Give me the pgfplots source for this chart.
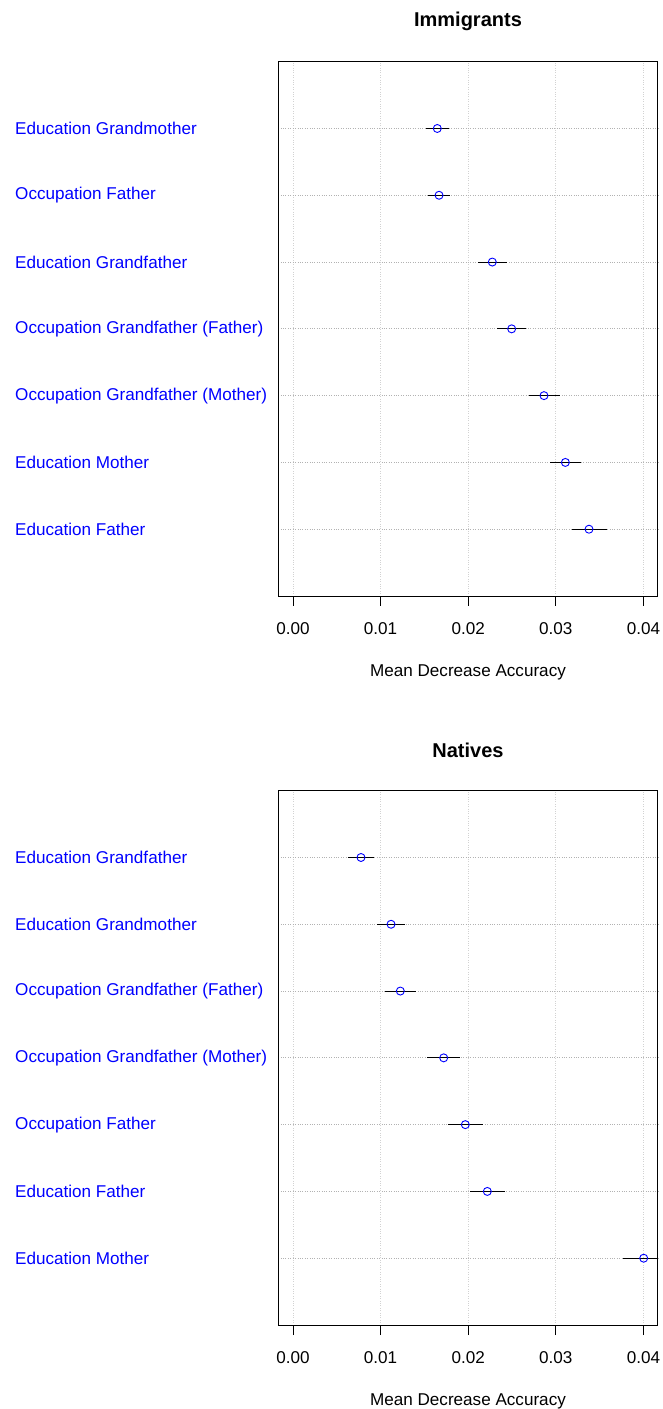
\documentclass[border=0pt]{standalone}
\usepackage{fontspec}
\setmainfont{Liberation Sans}
\usepackage{pgfplots}
\pgfplotsset{compat=1.18}
\usepackage{pgfplotstable}

\pgfplotstableread{
y m em ep
7 0.01647 0.00132 0.00134
6 0.01667 0.00130 0.00125
5 0.02275 0.00163 0.00164
4 0.02496 0.00167 0.00168
3 0.02865 0.00171 0.00180
2 0.03109 0.00172 0.00175
1 0.03379 0.00198 0.00202
}\immig

\pgfplotstableread{
y m em ep
7 0.00776 0.00148 0.00149
6 0.01119 0.00156 0.00156
5 0.01225 0.00175 0.00175
4 0.01720 0.00187 0.00186
3 0.01967 0.00198 0.00198
2 0.02218 0.00198 0.00206
1 0.04003 0.00236 0.00236
}\natives

\newcommand{\fs}{\fontsize{17.1}{20}\selectfont}

\pgfplotsset{
  dotpanel/.style={
    scale only axis, width=379.4pt, height=534.3pt,
    xmin=-0.00168, xmax=0.04163, ymin=0, ymax=8,
    scaled x ticks=false,
    xtick={0,0.01,0.02,0.03,0.04},
    xticklabels={0.00,0.01,0.02,0.03,0.04},
    ytick={1,2,3,4,5,6,7},
    xtick pos=lower,
    tick align=outside, major tick length=10pt,
    xtick style={black, line width=0.75pt},
    ytick style={draw=none},
    axis line style={black, line width=0.75pt},
    xmajorgrids, ymajorgrids,
    x grid style={gray!35, dotted, line width=0.75pt},
    y grid style={gray!60, dotted, line width=0.75pt},
    xticklabel style={font=\fs, inner sep=0pt, anchor=center, yshift=-23pt},
    yticklabel style={font=\fs, text=blue, anchor=west, inner sep=0pt, xshift=-253.3pt},
    xlabel={Mean Decrease Accuracy},
    xlabel style={font=\fs, at={(axis description cs:0.5,0)}, anchor=center, yshift=-76pt},
    title style={font=\fontsize{20}{24}\selectfont\bfseries, at={(axis description cs:0.5,1)}, anchor=center, yshift=34.7pt},
  },
  errbar/.style={draw=none, mark=none, forget plot,
    error bars/.cd, x dir=both, x explicit, error mark=none,
    error bar style={black, line width=0.9pt}},
  dots/.style={only marks, mark=o, mark size=4pt,
    mark options={blue, fill=white, line width=0.9pt}},
}

\begin{document}
\begin{tikzpicture}
\path[use as bounding box] (0,0) rectangle (662pt,1409pt);
\begin{axis}[dotpanel, at={(278.3pt,813pt)}, anchor=south west,
  title={Immigrants},
  yticklabels={Education Father, Education Mother, Occupation Grandfather (Mother), Occupation Grandfather (Father), Education Grandfather, Occupation Father, Education Grandmother}]
\addplot[errbar] table[x=m, y=y, x error plus=ep, x error minus=em] {\immig};
\addplot[dots] table[x=m, y=y] {\immig};
\end{axis}
\begin{axis}[dotpanel, at={(278.3pt,84pt)}, anchor=south west,
  title={Natives},
  yticklabels={Education Mother, Education Father, Occupation Father, Occupation Grandfather (Mother), Occupation Grandfather (Father), Education Grandmother, Education Grandfather}]
\addplot[errbar] table[x=m, y=y, x error plus=ep, x error minus=em] {\natives};
\addplot[dots] table[x=m, y=y] {\natives};
\end{axis}
\end{tikzpicture}
\end{document}
